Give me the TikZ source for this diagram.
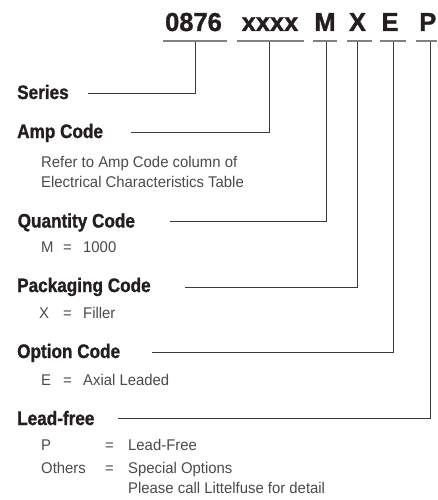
\documentclass[tikz,border=0pt]{standalone}
\usepackage{fontspec}
\setmainfont{Liberation Sans}
\newfontfamily\codefont{Liberation Sans}[FakeStretch=0.98, BoldFeatures={FakeBold=1.2}]
\newfontfamily\headfont{Liberation Sans}[FakeStretch=0.88, BoldFeatures={FakeBold=1.2}]
\newfontfamily\bodyfont{Liberation Sans}[FakeStretch=0.96]
\definecolor{txt}{HTML}{231F20}
\definecolor{body}{HTML}{4A4A4A}
\definecolor{uline}{HTML}{808080}
\definecolor{conn}{HTML}{3A3A3A}
\tikzset{
  code/.style={anchor=base, inner sep=0pt, font=\codefont\fontsize{26}{28}\selectfont\bfseries, text=txt},
  head/.style={anchor=base west, inner sep=0pt, font=\headfont\fontsize{19.5}{21}\selectfont\bfseries, text=txt},
  bodytxt/.style={anchor=base west, inner sep=0pt, font=\bodyfont\fontsize{15.5}{17}\selectfont, text=body},
  ul/.style={draw=uline, line width=1.6pt},
  connector/.style={draw=conn, line width=0.9pt},
}
\begin{document}
\begin{tikzpicture}[x=1pt,y=-1pt]
\useasboundingbox (0,0) rectangle (437,500);
% code letters
\node[code] (c1) at (193.5,31) {0876};
\node[code] (c2) at (270,31) {xxxx};
\node[code] (c3) at (325,31) {M};
\node[code] (c4) at (357.5,31) {X};
\node[code] (c5) at (390,31) {E};
\node[code, anchor=base east] (c6) at (436.5,31) {P};
% underlines
\coordinate (u1a) at (163,41); \coordinate (u1b) at (227,41);
\coordinate (u2a) at (237,41); \coordinate (u2b) at (304,41);
\coordinate (u3a) at (313,41); \coordinate (u3b) at (337,41);
\coordinate (u4a) at (347,41); \coordinate (u4b) at (372,41);
\coordinate (u5a) at (380,41); \coordinate (u5b) at (406,41);
\coordinate (u6a) at (416,41); \coordinate (u6b) at (437,41);
\draw[ul] (u1a) -- (u1b);
\draw[ul] (u2a) -- (u2b);
\draw[ul] (u3a) -- (u3b);
\draw[ul] (u4a) -- (u4b);
\draw[ul] (u5a) -- (u5b);
\draw[ul] (u6a) -- (u6b);
% headings
\node[head] (series) at (17,99) {Series};
\node[head] (amp) at (17,138) {Amp Code};
\node[bodytxt] (amp1) at (41,167) {Refer to Amp Code column of};
\node[bodytxt] (amp2) at (41,187) {Electrical Characteristics Table};
\node[head] (qty) at (17.5,227.5) {Quantity Code};
\node[bodytxt] (qtyM) at (41,252) {M};
\node[bodytxt] (qtyEq) at (63,252) {=};
\node[bodytxt] (qtyV) at (83,252) {1000};
\node[head] (pkg) at (17,292) {Packaging Code};
\node[bodytxt] (pkgX) at (39,318) {X};
\node[bodytxt] (pkgEq) at (63,318) {=};
\node[bodytxt] (pkgV) at (83,318) {Filler};
\node[head] (opt) at (17,358) {Option Code};
\node[bodytxt] (optE) at (41,385) {E};
\node[bodytxt] (optEq) at (63,385) {=};
\node[bodytxt] (optV) at (83,385) {Axial Leaded};
\node[head] (lead) at (17,425) {Lead-free};
\node[bodytxt] (leadP) at (41,450) {P};
\node[bodytxt] (leadEq) at (105,450) {=};
\node[bodytxt] (leadV) at (128,450) {Lead-Free};
\node[bodytxt] (othK) at (41,473) {Others};
\node[bodytxt] (othEq) at (105,473) {=};
\node[bodytxt] (othV) at (128,473) {Special Options};
\node[bodytxt] (othV2) at (128,493) {Please call Littelfuse for detail};
% connector corners
\coordinate (s0) at (88,93);  \coordinate (s1) at (195,93);  \coordinate (s2) at (195,42);
\coordinate (a0) at (131,132); \coordinate (a1) at (269,132); \coordinate (a2) at (269,42);
\coordinate (q0) at (170,221); \coordinate (q1) at (326,221); \coordinate (q2) at (326,42);
\coordinate (p0) at (185,287); \coordinate (p1) at (357,287); \coordinate (p2) at (357,42);
\coordinate (o0) at (152,352); \coordinate (o1) at (393.5,352); \coordinate (o2) at (393.5,42);
\coordinate (l0) at (118,418); \coordinate (l1) at (430,418); \coordinate (l2) at (430,42);
\draw[connector] (s0) -- (s1) -- (s2);
\draw[connector] (a0) -- (a1) -- (a2);
\draw[connector] (q0) -- (q1) -- (q2);
\draw[connector] (p0) -- (p1) -- (p2);
\draw[connector] (o0) -- (o1) -- (o2);
\draw[connector] (l0) -- (l1) -- (l2);
\end{tikzpicture}
\end{document}
